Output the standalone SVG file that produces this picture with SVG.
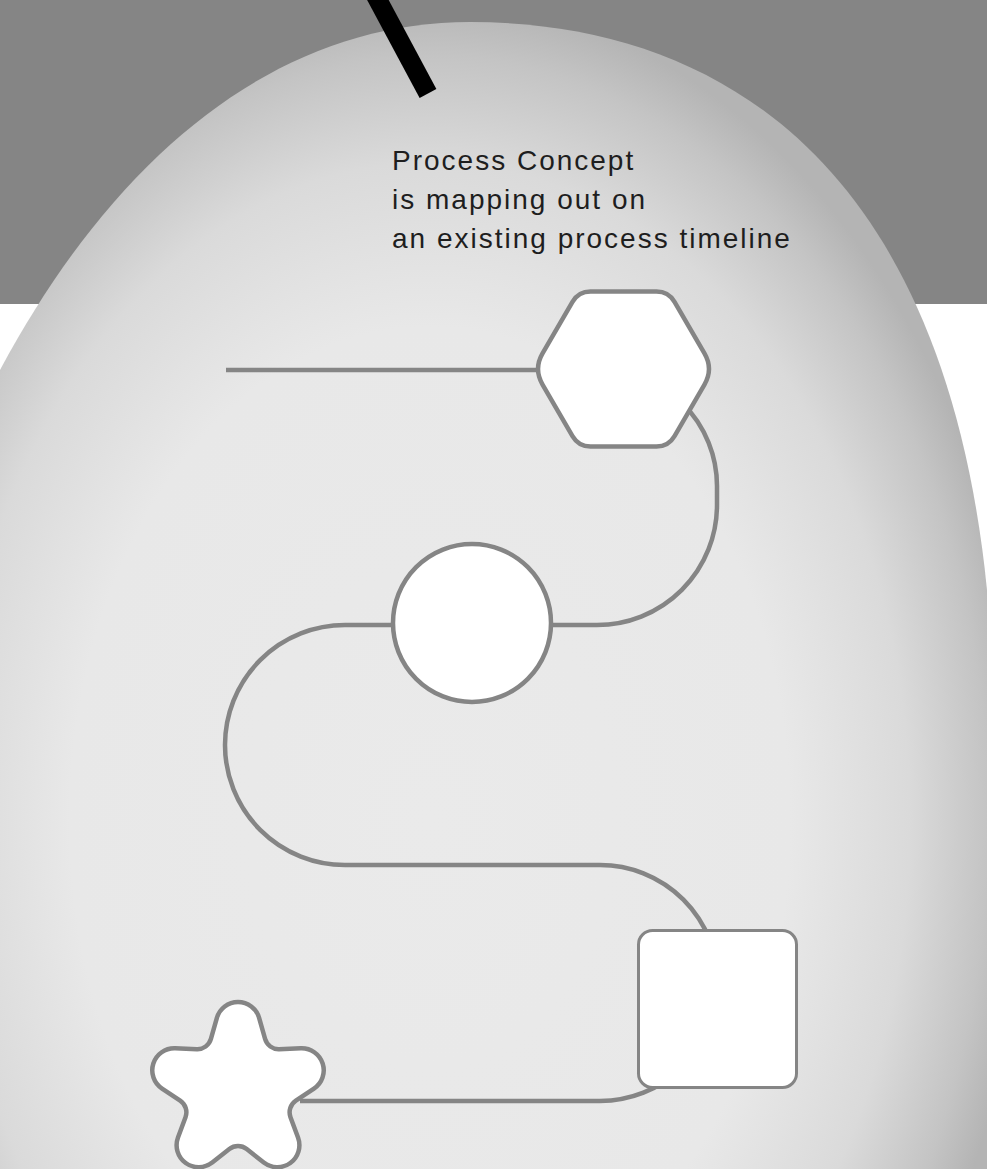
<svg xmlns="http://www.w3.org/2000/svg" width="987" height="1169" viewBox="0 0 987 1169">
  <defs>
    <radialGradient id="blobGrad" gradientUnits="userSpaceOnUse" cx="430" cy="820" r="600" gradientTransform="translate(430 820) scale(1 1.37) translate(-430 -820)">
      <stop offset="0" stop-color="#eaeaea"/>
      <stop offset="0.6" stop-color="#e8e8e8"/>
      <stop offset="0.8" stop-color="#dadada"/>
      <stop offset="0.93" stop-color="#c4c4c4"/>
      <stop offset="1" stop-color="#b4b4b4"/>
    </radialGradient>
    <style>
      .conn { fill: none; stroke: #858585; stroke-width: 4.5; }
      .node { fill: #ffffff; stroke: #858585; stroke-width: 4.5; stroke-linejoin: round; }
      .label { font-family: "Liberation Sans", Arial, sans-serif; font-size: 28px; fill: #1e1e1e; letter-spacing: 2px; }
    </style>
  </defs>

  <!-- background -->
  <rect x="0" y="0" width="987" height="1169" fill="#ffffff"/>
  <rect x="0" y="0" width="987" height="304" fill="#858585"/>
  <path d="M 0 370 C 118 150 280 22 470 22 C 725 22 945 170 987 590 L 987 1169 L 0 1169 Z" fill="url(#blobGrad)"/>

  <!-- black pointer line -->
  <line x1="372" y1="-11" x2="428" y2="93.5" stroke="#000000" stroke-width="19"/>

  <!-- label -->
  <text class="label">
    <tspan x="392" y="170">Process Concept</tspan>
    <tspan x="392" y="209">is mapping out on</tspan>
    <tspan x="392" y="248">an existing process timeline</tspan>
  </text>

  <!-- connectors -->
  <g id="connectors">
    <path class="conn" d="M 226 370 H 545"/>
    <path class="conn" d="M 597 368 A 120 118 0 0 1 717 486 V 505 A 120 120 0 0 1 597 625 H 345 A 120 120 0 0 0 345 865 H 600 A 118 118 0 0 1 600 1101 H 300"/>
  </g>

  <!-- nodes -->
  <g id="node-hexagon">
    <path class="node" d="M 542.54 384.57 Q 533.5 369 542.54 353.43 L 572.48 301.88 Q 578.5 291.5 590.5 291.5 L 656.5 291.5 Q 668.5 291.5 674.52 301.88 L 704.46 353.43 Q 713.5 369 704.46 384.57 L 674.52 436.12 Q 668.5 446.5 656.5 446.5 L 590.5 446.5 Q 578.5 446.5 572.48 436.12 Z"/>
  </g>
  <g id="node-circle">
    <circle class="node" cx="472" cy="623" r="79"/>
  </g>
  <g id="node-square">
    <rect class="node" x="638.5" y="930.5" width="158" height="157" rx="14" style="stroke-width:3"/>
  </g>
  <g id="node-star">
    <path class="node" d="M 216.82 1018.03 A 22 22 0 0 1 259.18 1018.03 L 265.08 1038.98 A 14 14 0 0 0 279.10 1049.17 L 300.86 1048.31 A 22 22 0 0 1 313.95 1088.59 L 295.85 1100.69 A 14 14 0 0 0 290.48 1117.16 L 298.02 1137.58 A 22 22 0 0 1 263.76 1162.48 L 246.67 1149.0 A 14 14 0 0 0 229.34 1149.0 L 212.24 1162.48 A 22 22 0 0 1 177.98 1137.58 L 185.51 1117.16 A 14 14 0 0 0 180.16 1100.68 L 162.05 1088.59 A 22 22 0 0 1 175.14 1048.31 L 196.89 1049.17 A 14 14 0 0 0 210.92 1038.98 Z"/>
  </g>
</svg>
